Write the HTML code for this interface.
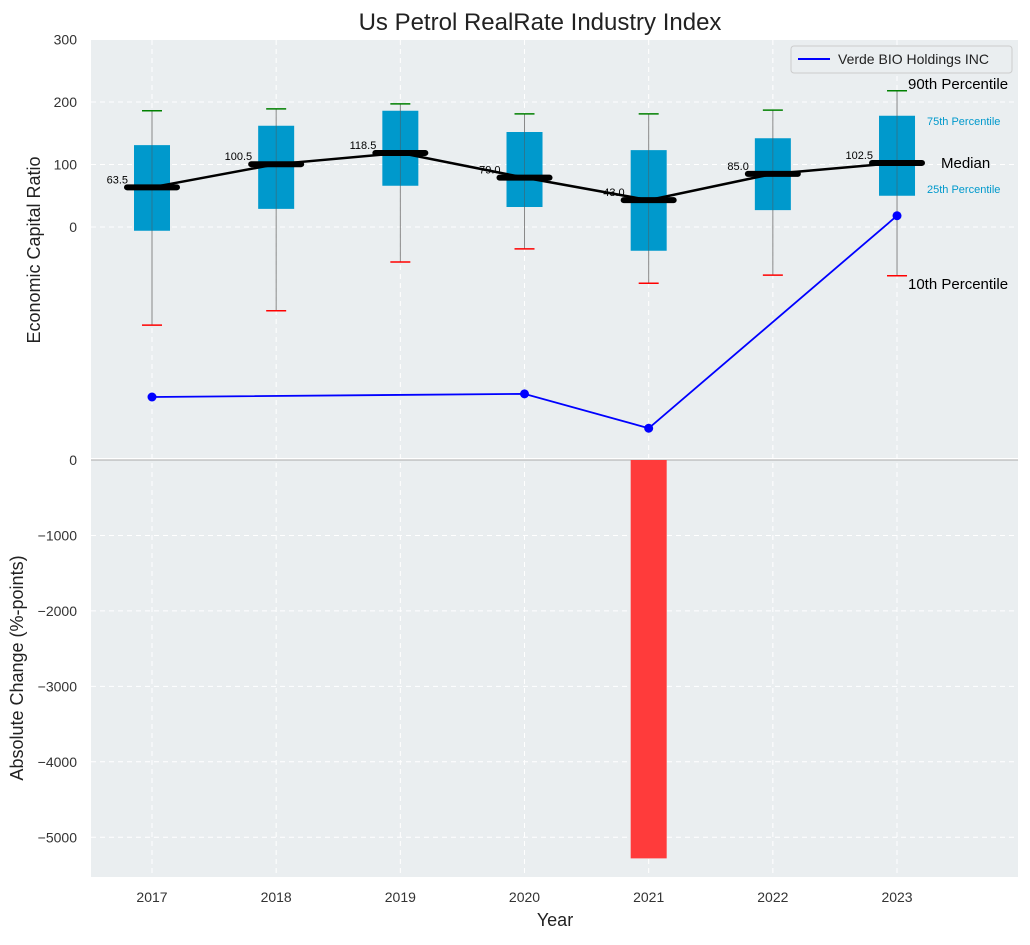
<!DOCTYPE html>
<html><head><meta charset="utf-8"><style>
body{margin:0;background:#fff;font-family:"Liberation Sans",sans-serif}
text{font-family:"Liberation Sans",sans-serif}
</style></head><body>
<svg id="c" width="1030" height="940" xmlns="http://www.w3.org/2000/svg">
<rect x="91" y="40" width="927" height="418" fill="#eaeef0"/>
<rect x="91" y="460" width="927" height="417" fill="#eaeef0"/>
<text x="540" y="30" font-size="24" text-anchor="middle" fill="#222">Us Petrol RealRate Industry Index</text>
<text transform="translate(40,250) rotate(-90)" font-size="18" text-anchor="middle" fill="#222">Economic Capital Ratio</text>
<text transform="translate(23,668) rotate(-90)" font-size="18" text-anchor="middle" fill="#222">Absolute Change (%-points)</text>
<text x="555" y="926" font-size="18" text-anchor="middle" fill="#222">Year</text>
<g id="g"></g>
<g>
<rect x="791" y="46" width="221" height="27" fill="#eaeef0" stroke="#ccc" rx="3"/>
<line x1="798" y1="59" x2="830" y2="59" stroke="#0000ff" stroke-width="2"/>
<text x="838" y="64" font-size="14" fill="#222">Verde BIO Holdings INC</text>
</g>
<text x="908" y="89" font-size="15" fill="#000">90th Percentile</text>
<text x="927" y="125" font-size="11" fill="#0099cc">75th Percentile</text>
<text x="941" y="168" font-size="15" fill="#000">Median</text>
<text x="927" y="193" font-size="11" fill="#0099cc">25th Percentile</text>
<text x="908" y="289" font-size="15" fill="#000">10th Percentile</text>
</svg>
<script>
const years=[2017,2018,2019,2020,2021,2022,2023];
const p90=[186,189,197,181,181,187,218];
const p75=[131,162,186,152,123,142,178];
const median=[63.5,100.5,118.5,79.0,43.0,85.0,102.5];
const p25=[-6,29,66,32,-38,27,50];
const p10=[-157,-134,-56,-35,-90,-77,-78];
const compYears=[2017,2020,2021,2023];
const compValues=[-272,-267,-322,18];
const changeValues=[0,0,0,0,-5280,0,0];
const topTicks=[0,100,200,300];
const botTicks=[0,-1000,-2000,-3000,-4000,-5000];
const NS="http://www.w3.org/2000/svg";
const g=document.getElementById('g');
const X=y=>152+(y-2017)*124.17;
const YT=v=>227-v*0.625;
const YB=v=>460-v*0.07545;
function mk(t,a,p){const e=document.createElementNS(NS,t);for(const k in a)e.setAttribute(k,a[k]);(p||g).appendChild(e);return e;}
topTicks.forEach(t=>{
 const l=mk('line',{x1:91,x2:1018,y1:YT(t),y2:YT(t),stroke:'#fff','stroke-dasharray':'5,4'});
 
 const tx=mk('text',{x:77,y:YT(t)+5,'font-size':14,'text-anchor':'end',fill:'#333'});tx.textContent=t;
 
});
botTicks.forEach(t=>{
 const l=mk('line',{x1:91,x2:1018,y1:YB(t),y2:YB(t),stroke:'#fff','stroke-dasharray':'5,4'});
 
 const tx=mk('text',{x:77,y:YB(t)+5,'font-size':14,'text-anchor':'end',fill:'#333'});tx.textContent=String(t).replace('-','\u2212');
 
});
years.forEach(y=>{
 const l=mk('line',{x1:X(y),x2:X(y),y1:40,y2:877,stroke:'#fff','stroke-dasharray':'5,4'});
 
 const tx=mk('text',{x:X(y),y:902,'font-size':14,'text-anchor':'middle',fill:'#333'});tx.textContent=y;
 
});
const zl=mk('line',{x1:91,x2:1018,y1:460,y2:460,stroke:'#aaa','stroke-width':1});

changeValues.forEach((v,i)=>{if(!v)return;
 const r=mk('rect',{x:X(years[i])-18,y:YB(0),width:36,height:YB(v)-YB(0),fill:'#ff3b3b'});
 
});
years.forEach((y,i)=>{
 const x=X(y);
 const w=mk('line',{x1:x,x2:x,y1:YT(p90[i]),y2:YT(p10[i]),stroke:'#888','stroke-width':1});
 
 const b=mk('rect',{x:x-18,y:YT(p75[i]),width:36,height:YT(p25[i])-YT(p75[i]),fill:'#0099cc'});
 
 const w2=mk('line',{x1:x,x2:x,y1:YT(p75[i]),y2:YT(p25[i]),stroke:'#555','stroke-width':0.8,opacity:0.6});
 
 const c1=mk('line',{x1:x-10,x2:x+10,y1:YT(p90[i]),y2:YT(p90[i]),stroke:'green','stroke-width':1.5});
 
 const c2=mk('line',{x1:x-10,x2:x+10,y1:YT(p10[i]),y2:YT(p10[i]),stroke:'red','stroke-width':1.5});
 
});
const mp=mk('polyline',{points:years.map((y,i)=>X(y)+','+YT(median[i])).join(' '),fill:'none',stroke:'#000','stroke-width':2.5});

years.forEach((y,i)=>{
 const x=X(y);
 const m=mk('line',{x1:x-25,x2:x+25,y1:YT(median[i]),y2:YT(median[i]),stroke:'#000','stroke-width':6,'stroke-linecap':'round'});
 
 const t=mk('text',{x:x-24,y:YT(median[i])-4,'font-size':11,'text-anchor':'end',fill:'#000'});t.textContent=median[i].toFixed(1);
 
});
const cl=mk('polyline',{points:compYears.map((y,i)=>X(y)+','+YT(compValues[i])).join(' '),fill:'none',stroke:'#0000ff','stroke-width':1.8});

compYears.forEach((y,i)=>{
 const c=mk('circle',{cx:X(y),cy:YT(compValues[i]),r:4.5,fill:'#0000ff'});
 
});
</script>
</body></html>
